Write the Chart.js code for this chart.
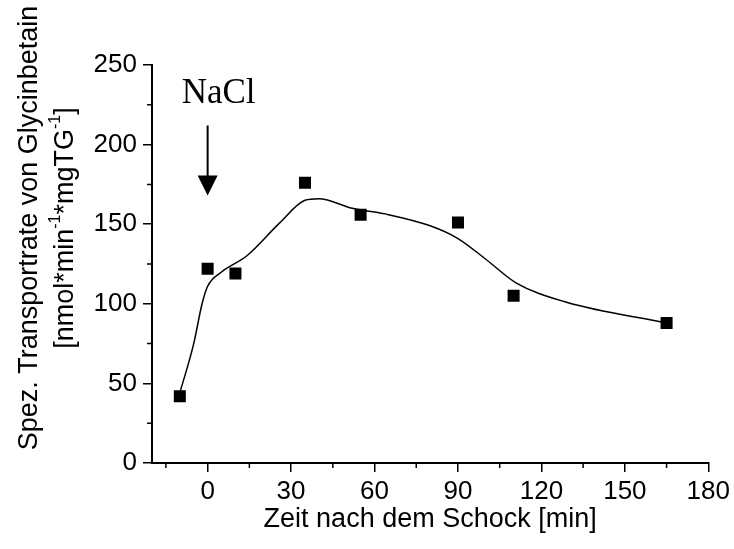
<!DOCTYPE html>
<html>
<head>
<meta charset="utf-8">
<title>Glycinbetain-Transport nach Salzschock</title>
<script src="https://cdn.jsdelivr.net/npm/chart.js@4/dist/chart.umd.min.js"></script>
<style>
  html, body { margin: 0; padding: 0; background: #fff; }
  #wrap { width: 734px; height: 549px; }
</style>
</head>
<body>
<div id="wrap"><canvas id="chart" width="734" height="549"></canvas></div>
<script>
// Messwerte: Zeit nach dem Schock [min] und Transportrate
var zeit = [-10, 0, 10, 35, 55, 90, 110, 165];
var rate = [42, 122, 119, 176, 156, 151, 105, 88];

var kurveZeit = [-10, -5, -2, 0, 5, 14, 26, 35, 40, 52, 65, 80, 90, 100, 111, 129, 165];
var kurveRate = [44, 75, 100, 111, 120, 130, 151, 165, 166, 160, 156, 149, 141, 128, 113, 101, 88];

// Achsenteilung
var xTicks = [-15, 0, 15, 30, 45, 60, 75, 90, 105, 120, 135, 150, 165, 180];
var yTicks = [0, 25, 50, 75, 100, 125, 150, 175, 200, 225, 250];

var sans = "'Liberation Sans', Arial, sans-serif";
var serif = "'Liberation Serif', 'Times New Roman', serif";

function toPoints(xs, ys) {
    return xs.map(function (x, i) { return { x: x, y: ys[i] }; });
}

// kurze Nebenstriche zwischen den beschrifteten Strichen
var minorTicks = {
    id: 'minorTicks',
    afterDraw: function (chart) {
        var ctx = chart.ctx;
        var xs = chart.scales.x, ys = chart.scales.y;
        ctx.save();
        ctx.strokeStyle = '#000';
        ctx.lineWidth = 1.5;
        ctx.beginPath();
        xTicks.forEach(function (v) {
            if (v % 30 !== 0) {
                var px = xs.getPixelForValue(v);
                ctx.moveTo(px, ys.bottom);
                ctx.lineTo(px, ys.bottom + 5);
            }
        });
        yTicks.forEach(function (v) {
            if (v % 50 !== 0) {
                var py = ys.getPixelForValue(v);
                ctx.moveTo(xs.left, py);
                ctx.lineTo(xs.left - 5, py);
            }
        });
        ctx.stroke();
        ctx.restore();
    }
};

// Beschriftung der y-Achse mit hochgestellten Exponenten
var yTitle = {
    id: 'yTitle',
    afterDraw: function (chart) {
        var ctx = chart.ctx;
        var cy = 228;
        ctx.save();
        ctx.fillStyle = '#000';
        ctx.textBaseline = 'middle';

        ctx.save();
        ctx.translate(30, cy);
        ctx.rotate(-Math.PI / 2);
        ctx.font = '27px ' + sans;
        ctx.textAlign = 'center';
        ctx.fillText('Spez. Transportrate von Glycinbetain', 0, 0);
        ctx.restore();

        var parts = [
            { t: '[nmol*min', sup: false },
            { t: '-1', sup: true },
            { t: '*mgTG', sup: false },
            { t: '-1', sup: true },
            { t: ']', sup: false }
        ];
        var big = '27px ' + sans, small = '16px ' + sans;
        var total = 0;
        parts.forEach(function (p) {
            ctx.font = p.sup ? small : big;
            p.w = ctx.measureText(p.t).width;
            total += p.w;
        });
        ctx.save();
        ctx.translate(66, cy);
        ctx.rotate(-Math.PI / 2);
        ctx.textAlign = 'left';
        var pos = -total / 2;
        parts.forEach(function (p) {
            ctx.font = p.sup ? small : big;
            ctx.fillText(p.t, pos, p.sup ? -10 : 0);
            pos += p.w;
        });
        ctx.restore();
        ctx.restore();
    }
};

// Pfeil für die NaCl-Zugabe bei t = 0
var naclArrow = {
    id: 'naclArrow',
    afterDraw: function (chart) {
        var ctx = chart.ctx;
        var xs = chart.scales.x, ys = chart.scales.y;
        var px = xs.getPixelForValue(0);
        var top = ys.getPixelForValue(212);
        var tip = ys.getPixelForValue(168);
        ctx.save();
        ctx.fillStyle = '#000';
        ctx.strokeStyle = '#000';
        ctx.lineWidth = 2;
        ctx.beginPath();
        ctx.moveTo(px, top);
        ctx.lineTo(px, tip - 16);
        ctx.stroke();
        ctx.beginPath();
        ctx.moveTo(px - 10, tip - 20);
        ctx.lineTo(px + 10, tip - 20);
        ctx.lineTo(px, tip);
        ctx.closePath();
        ctx.fill();
        ctx.font = '35px ' + serif;
        ctx.textAlign = 'center';
        ctx.textBaseline = 'alphabetic';
        ctx.fillText('NaCl', px + 11, ys.getPixelForValue(226));
        ctx.restore();
    }
};

var ctx = document.getElementById('chart').getContext('2d');
var chart = new Chart(ctx, {
    type: 'scatter',
    data: {
        datasets: [{
            label: 'Messwerte',
            data: toPoints(zeit, rate),
            pointStyle: 'rect',
            pointRadius: 8.5,
            pointHoverRadius: 8.5,
            backgroundColor: '#000',
            borderColor: '#000',
            borderWidth: 0,
            showLine: false
        }, {
            label: 'Anpassung',
            data: toPoints(kurveZeit, kurveRate),
            showLine: true,
            pointRadius: 0,
            borderColor: '#000',
            borderWidth: 1.5,
            cubicInterpolationMode: 'monotone',
            fill: false
        }]
    },
    options: {
        responsive: false,
        animation: false,
        events: [],
        layout: { padding: { top: 65, right: 24, left: 0, bottom: 0 } },
        plugins: {
            legend: { display: false },
            tooltip: { enabled: false }
        },
        scales: {
            x: {
                type: 'linear',
                min: -20,
                max: 180,
                afterBuildTicks: function (scale) {
                    scale.ticks = xTicks.map(function (v) { return { value: v }; });
                },
                afterFit: function (scale) { scale.height = 86; },
                ticks: {
                    autoSkip: false,
                    maxRotation: 0,
                    padding: 4,
                    color: '#000',
                    font: { family: sans, size: 26 },
                    callback: function (v) { return v % 30 === 0 ? String(v) : ''; }
                },
                grid: {
                    drawOnChartArea: false,
                    tickLength: 9,
                    lineWidth: 1.5,
                    color: function (c) {
                        return c.tick && c.tick.value % 30 === 0 ? '#000' : 'rgba(0,0,0,0)';
                    }
                },
                border: { display: true, color: '#000', width: 2 },
                title: {
                    display: true,
                    text: 'Zeit nach dem Schock [min]',
                    color: '#000',
                    font: { family: sans, size: 27 },
                    padding: { top: 4, bottom: 13 }
                }
            },
            y: {
                min: 0,
                max: 250,
                afterBuildTicks: function (scale) {
                    scale.ticks = yTicks.map(function (v) { return { value: v }; });
                },
                afterFit: function (scale) { scale.width = 152; },
                ticks: {
                    autoSkip: false,
                    padding: 6,
                    color: '#000',
                    font: { family: sans, size: 26 },
                    callback: function (v) { return v % 50 === 0 ? String(v) : ''; }
                },
                grid: {
                    drawOnChartArea: false,
                    tickLength: 9,
                    lineWidth: 1.5,
                    color: function (c) {
                        return c.tick && c.tick.value % 50 === 0 ? '#000' : 'rgba(0,0,0,0)';
                    }
                },
                border: { display: true, color: '#000', width: 2 }
            }
        }
    },
    plugins: [minorTicks, yTitle, naclArrow]
});
</script>
</body>
</html>
